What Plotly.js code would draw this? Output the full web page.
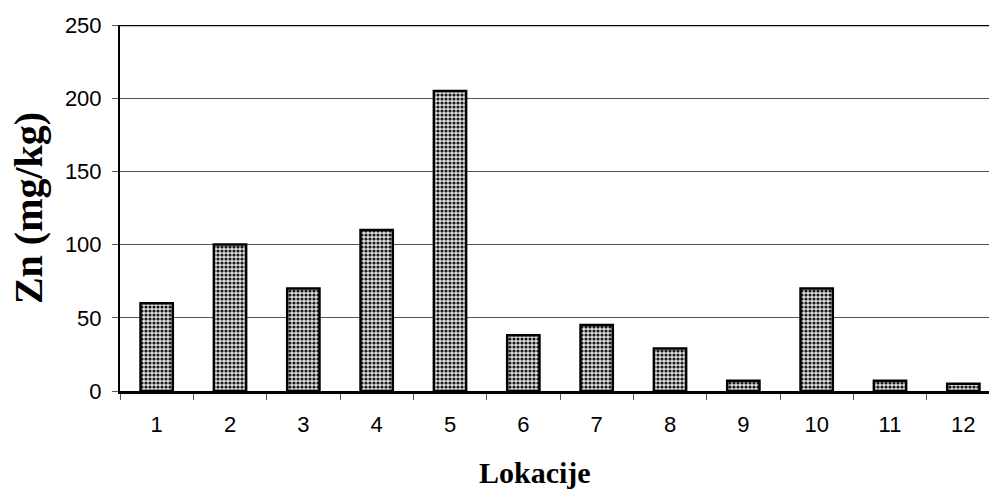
<!DOCTYPE html>
<html>
<head>
<meta charset="utf-8">
<script src="https://cdn.plot.ly/plotly-3.0.1.min.js"></script>
<style>
html,body{margin:0;padding:0;background:#fff;overflow:hidden;}
#chart{width:989px;height:490px;}
</style>
</head>
<body>
<div id="chart"></div>
<script>
var categories = ["1","2","3","4","5","6","7","8","9","10","11","12"];
var znValues = [60, 100, 70, 110, 205, 38, 45, 29, 7, 70, 7, 5];
var yTickValues = [0, 50, 100, 150, 200, 250];
var xTitle = "Lokacije";
var yTitle = "Zn (mg/kg)";

var trace = {
  type: "bar",
  x: categories,
  y: znValues,
  width: 0.44,
  marker: {
    color: "#d0d0d0",
    line: {color: "#000", width: 2.5},
    pattern: {shape: ".", fgcolor: "#1a1a1a", bgcolor: "#e0e0e0", size: 4, solidity: 0.5}
  },
  hoverinfo: "x+y"
};

var layout = {
  width: 989,
  height: 490,
  margin: {l: 120, r: 0, t: 25, b: 99},
  paper_bgcolor: "#fff",
  plot_bgcolor: "#fff",
  showlegend: false,
  font: {family: "Liberation Sans, Arial, sans-serif", color: "#000", size: 22},
  xaxis: {
    type: "category",
    range: [-0.5, 11.35],
    showline: true,
    linecolor: "#000",
    linewidth: 2.5,
    ticks: "outside",
    tickson: "boundaries",
    ticklen: 6,
    tickwidth: 1,
    tickcolor: "#555",
    ticklabelstandoff: 12,
    showgrid: false,
    zeroline: false,
    tickfont: {size: 22, family: "Liberation Sans, Arial, sans-serif"},
    fixedrange: true
  },
  yaxis: {
    range: [0, 250],
    tickvals: yTickValues,
    showline: true,
    linecolor: "#000",
    linewidth: 2,
    ticks: "outside",
    ticklen: 6,
    tickwidth: 1,
    tickcolor: "#555",
    ticklabelstandoff: 6,
    showgrid: true,
    gridcolor: "#555",
    gridwidth: 1,
    zeroline: false,
    tickfont: {size: 22, family: "Liberation Sans, Arial, sans-serif"},
    title: {text: "<b>" + yTitle + "</b>", font: {family: "Liberation Serif, Times New Roman, serif", size: 40}, standoff: 10},
    fixedrange: true
  },
  shapes: [{
    type: "line", xref: "paper", yref: "y", x0: 0, x1: 1, y0: 250, y1: 250,
    line: {color: "#000", width: 2.5}
  }],
  annotations: [{
    text: "<b>" + xTitle + "</b>",
    xref: "paper", yref: "paper",
    x: 0.4776, y: -0.224,
    xanchor: "center", yanchor: "middle",
    showarrow: false,
    font: {family: "Liberation Serif, Times New Roman, serif", size: 30, color: "#000"}
  }]
};

Plotly.newPlot("chart", [trace], layout, {displayModeBar: false, staticPlot: true});
</script>
</body>
</html>
